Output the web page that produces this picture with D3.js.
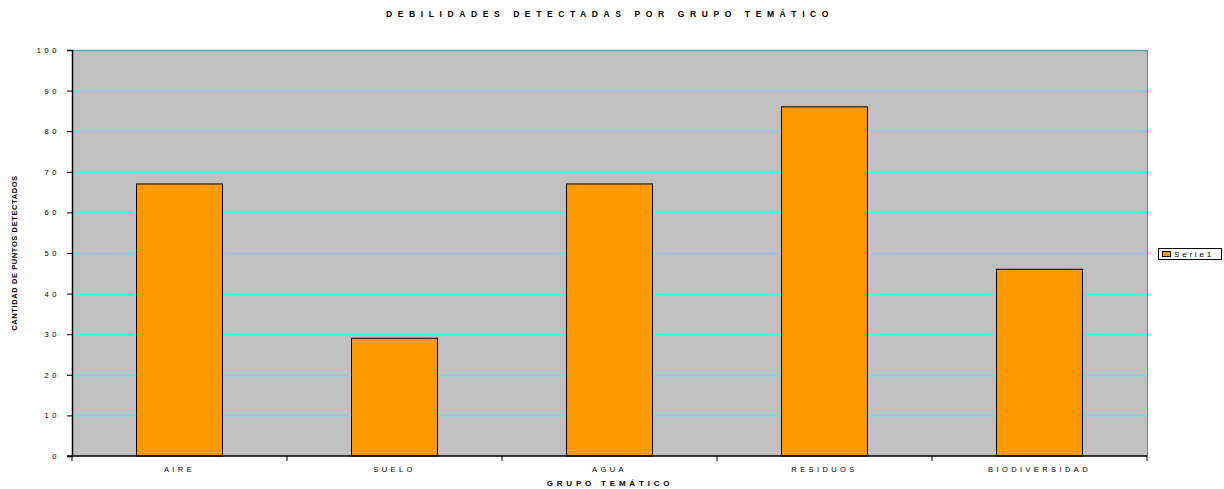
<!DOCTYPE html>
<html>
<head>
<meta charset="utf-8">
<script src="https://cdn.jsdelivr.net/npm/d3@7"></script>
<style>
  body { margin: 0; background: white; }
  text { font-family: "Liberation Sans", Arial, sans-serif; fill: #000; }
</style>
</head>
<body>
<div class="chart"></div>
<script>
const categories = ["AIRE", "SUELO", "AGUA", "RESIDUOS", "BIODIVERSIDAD"];
const values = [67, 29, 67, 86, 46];
const yTicks = [0, 10, 20, 30, 40, 50, 60, 70, 80, 90, 100];
const seriesName = "Serie1";

const w = 1224;
const h = 489;
const plotLeft = 72, plotRight = 1147, plotTop = 50, plotBottom = 456;

const svg = d3.select(".chart")
  .append("svg")
  .attr("width", w)
  .attr("height", h);

const x = d3.scaleBand().domain(categories).range([plotLeft, plotRight]);
const y = d3.scaleLinear().domain([0, 100]).range([plotBottom, plotTop]);

// plot area
svg.append("rect")
  .attr("x", plotLeft).attr("y", plotTop)
  .attr("width", plotRight - plotLeft).attr("height", plotBottom - plotTop)
  .attr("fill", "#c0c0c0");

// gridlines
svg.selectAll(".grid")
  .data(yTicks.filter(d => d > 0))
  .enter().append("line")
  .attr("x1", plotLeft).attr("x2", plotRight)
  .attr("y1", d => Math.round(y(d)) + 0.5)
  .attr("y2", d => Math.round(y(d)) + 0.5)
  .attr("stroke", d => d === 100 ? "#5aa8a8" : "#40f0f0")
  .attr("stroke-width", 1.3);

// right border
svg.append("line")
  .attr("x1", plotRight + 0.5).attr("x2", plotRight + 0.5)
  .attr("y1", plotTop).attr("y2", plotBottom)
  .attr("stroke", "#808080");

// bars
const barW = x.bandwidth() * 0.4;
svg.selectAll(".bar")
  .data(values)
  .enter().append("rect")
  .attr("x", (d, i) => x(categories[i]) + (x.bandwidth() - barW) / 2)
  .attr("y", d => y(d))
  .attr("width", barW)
  .attr("height", d => plotBottom - y(d))
  .attr("fill", "#ff9900")
  .attr("stroke", "#000")
  .attr("stroke-width", 1);

// y axis
const yAxis = d3.axisLeft(y).tickValues(yTicks).tickSize(5).tickPadding(7)
  .tickFormat(d => String(d));
const gy = svg.append("g").attr("transform", `translate(${plotLeft},0)`).call(yAxis);
gy.select(".domain").attr("stroke", "#000").attr("stroke-width", 1.5);
gy.selectAll(".tick line").attr("stroke", "#000");
gy.selectAll("text").attr("font-size", 7.5).attr("fill", "#000")
  .attr("font-family", "Liberation Sans, Arial, sans-serif")
  .style("letter-spacing", "3.6px");

// x axis
const gx = svg.append("g").attr("transform", `translate(0,${plotBottom})`);
gx.append("line")
  .attr("x1", plotLeft - 5).attr("x2", plotRight)
  .attr("y1", 0).attr("y2", 0)
  .attr("stroke", "#000").attr("stroke-width", 1.5);
const bounds = categories.map(c => x(c)).concat([plotRight]);
gx.selectAll(".xt")
  .data(bounds)
  .enter().append("line")
  .attr("x1", d => d).attr("x2", d => d)
  .attr("y1", 0).attr("y2", 5)
  .attr("stroke", "#000");
gx.selectAll(".xl")
  .data(categories)
  .enter().append("text")
  .attr("x", d => x(d) + x.bandwidth() / 2)
  .attr("y", 16)
  .attr("text-anchor", "middle")
  .attr("font-size", 7.5)
  .style("letter-spacing", "3.4px")
  .text(d => d);

// title
svg.append("text")
  .attr("x", 610).attr("y", 17)
  .attr("text-anchor", "middle")
  .attr("font-size", 8.5)
  .attr("font-weight", "bold")
  .style("letter-spacing", "5.6px")
  .text("DEBILIDADES DETECTADAS POR GRUPO TEMÁTICO");

// x title
svg.append("text")
  .attr("x", 610).attr("y", 486)
  .attr("text-anchor", "middle")
  .attr("font-size", 8)
  .attr("font-weight", "bold")
  .style("letter-spacing", "3.8px")
  .text("GRUPO TEMÁTICO");

// y title
svg.append("text")
  .attr("transform", "translate(17,253) rotate(-90)")
  .attr("text-anchor", "middle")
  .attr("font-size", 7.5)
  .attr("font-weight", "bold")
  .style("letter-spacing", "0.6px")
  .text("CANTIDAD DE PUNTOS DETECTADOS");

// legend
const lg = svg.append("g").attr("transform", "translate(1158,248)");
lg.append("rect").attr("x", 0.5).attr("y", 0.5).attr("width", 63).attr("height", 11)
  .attr("fill", "white").attr("stroke", "#000");
lg.append("rect").attr("x", 4.5).attr("y", 3.5).attr("width", 8).attr("height", 5)
  .attr("fill", "#ff9900").attr("stroke", "#000");
lg.append("text").attr("x", 16).attr("y", 9)
  .attr("font-size", 8)
  .style("letter-spacing", "2.8px")
  .text(seriesName);
</script>
</body>
</html>
